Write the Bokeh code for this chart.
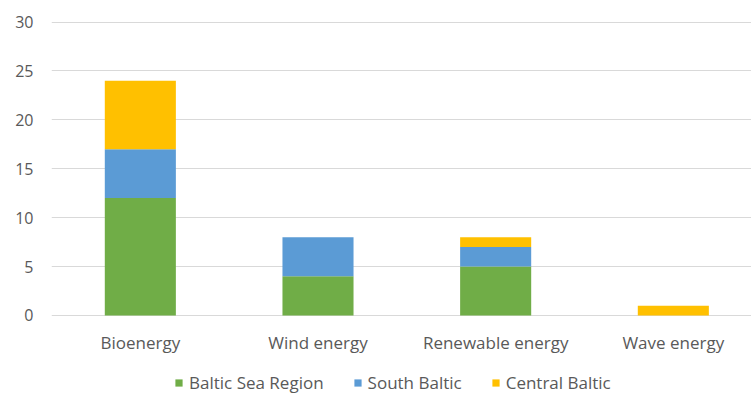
from bokeh.plotting import figure
from bokeh.layouts import column
from bokeh.models import Range1d, FixedTicker, Legend, LegendItem, ColumnDataSource
from bokeh.embed import file_html
from bokeh.resources import INLINE

categories = ["Bioenergy", "Wind energy", "Renewable energy", "Wave energy"]
series = ["Baltic Sea Region", "South Baltic", "Central Baltic"]
baltic_sea_region = [12, 4, 5, 0]
south_baltic = [5, 4, 2, 0]
central_baltic = [7, 0, 1, 1]
colors = ["#70AD47", "#5B9BD5", "#FFC000"]
y_ticks = [0, 5, 10, 15, 20, 25, 30]

FONT = "Open Sans"
TXT = "#595959"

src = ColumnDataSource(dict(
    x=list(range(len(categories))),
    **{"Baltic Sea Region": baltic_sea_region,
       "South Baltic": south_baltic,
       "Central Baltic": central_baltic}))

p = figure(width=751, height=358, output_backend="svg", toolbar_location=None,
           x_range=Range1d(-0.5, 3.44), y_range=Range1d(-0.31, 30.36),
           min_border_left=51, min_border_right=0, min_border_top=18,
           min_border_bottom=40)
p.outline_line_color = None
p.background_fill_color = "white"

renderers = p.vbar_stack(series, x="x", width=0.4, source=src, color=colors,
                         line_color=None)

p.xaxis.ticker = FixedTicker(ticks=list(range(len(categories))))
p.xaxis.major_label_overrides = {i: c for i, c in enumerate(categories)}
p.yaxis.ticker = FixedTicker(ticks=y_ticks)
for ax in (p.xaxis[0], p.yaxis[0]):
    ax.axis_line_color = None
    ax.major_tick_line_color = None
    ax.minor_tick_line_color = None
    ax.major_tick_out = 0
    ax.major_tick_in = 0
    ax.minor_tick_out = 0
    ax.minor_tick_in = 0
    ax.major_label_text_font = FONT
    ax.major_label_text_color = TXT
p.xaxis.major_label_text_font_size = "17px"
p.yaxis.major_label_text_font_size = "16px"
p.xaxis.major_label_standoff = 12
p.yaxis.major_label_standoff = 18
p.xgrid.grid_line_color = None
p.ygrid.ticker = FixedTicker(ticks=y_ticks)
p.ygrid.grid_line_color = "#D9D9D9"
p.ygrid.grid_line_width = 1

# Legend strip below the chart (zero-height bars serve only as legend swatches)
lg = figure(width=751, height=37, output_backend="svg", toolbar_location=None,
            x_range=Range1d(-0.5, 3.44), y_range=Range1d(0, 1),
            min_border_left=0, min_border_right=0, min_border_top=0,
            min_border_bottom=0)
lg.axis.visible = False
lg.grid.visible = False
lg.outline_line_color = None
swatches = [lg.vbar(x="x", top=0, bottom=0, width=0.4, source=src,
                    fill_color=c, line_color=None) for c in colors]

legend = Legend(items=[LegendItem(label=s, renderers=[r]) for s, r in zip(series, swatches)],
                orientation="horizontal", location=(123, 1),
                glyph_width=9, glyph_height=9, label_standoff=6, spacing=29,
                padding=0, margin=0, border_line_color=None,
                background_fill_alpha=0, label_height=16,
                label_text_font=FONT, label_text_font_size="17px",
                label_text_color=TXT)
lg.add_layout(legend, "center")

layout = column(p, lg, spacing=0)
open("out.html", "w").write(file_html(layout, INLINE))
